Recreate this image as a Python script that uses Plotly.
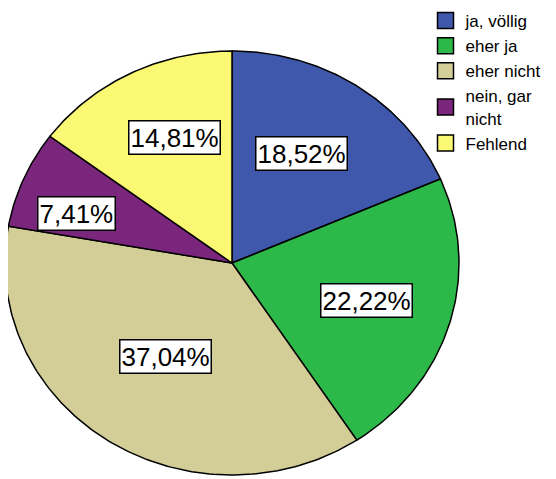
import numpy as np
import plotly.graph_objects as go

# ---- data ----
categories = ["ja, völlig", "eher ja", "eher nicht", "nein, gar<br>nicht", "Fehlend"]
percent = [18.52, 22.22, 37.04, 7.41, 14.81]

# ---- style ----
colors = ["#3f58ac", "#2db84a", "#d3ce98", "#7b267d", "#fbf874"]
label_r = [0.60, 0.62, 0.53, 0.725, 0.645]       # label distance (fraction of radius)
label_dt = [-2.7, 0.0, 0.0, -4.7, 3.7]           # label angle shift (deg)
FONT = "Liberation Sans, Arial, sans-serif"

W, H = 548, 471           # page body margin of 8px takes the rest
CX, CY = 224, 255         # pie centre in figure pixels
RX, RY = 227, 212         # pie radii in pixels

fig = go.Figure()
total = sum(percent)
start = 0.0
annotations = []
for name, val, col, lr, dt in zip(categories, percent, colors, label_r, label_dt):
    frac = val / total
    t0 = 2 * np.pi * start
    t1 = 2 * np.pi * (start + frac)
    n = max(int(frac * 400), 8)
    t = np.linspace(t0, t1, n)
    xs = np.concatenate([[0], np.sin(t), [0]])
    ys = np.concatenate([[0], np.cos(t), [0]])
    fig.add_trace(go.Scatter(
        x=xs, y=ys, mode="lines", fill="toself", fillcolor=col,
        line=dict(color="black", width=1.5), showlegend=False,
        legendgroup=name, hoverinfo="skip"))
    fig.add_trace(go.Scatter(
        x=[None], y=[None], mode="markers", name=name, legendgroup=name,
        marker=dict(symbol="square", size=16, color=col,
                    line=dict(color="black", width=1.5))))
    tm = (t0 + t1) / 2 + np.deg2rad(dt)
    annotations.append(dict(
        x=lr * np.sin(tm), y=lr * np.cos(tm), xref="x", yref="y",
        text=f"{val:.2f}%".replace(".", ","), showarrow=False,
        font=dict(family=FONT, size=26, color="black"),
        bgcolor="white", bordercolor="black", borderwidth=1.5, borderpad=1))
    start += frac

fig.update_layout(
    width=W, height=H,
    margin=dict(l=0, r=0, t=0, b=0, autoexpand=False),
    paper_bgcolor="white", plot_bgcolor="white",
    xaxis=dict(visible=False, range=[-CX / RX, (W - CX) / RX], fixedrange=True),
    yaxis=dict(visible=False, range=[-(H - CY) / RY, CY / RY], fixedrange=True),
    showlegend=True,
    legend=dict(x=417.5 / W, y=1 + 5 / H, xanchor="left", yanchor="top",
                font=dict(family=FONT, size=17, color="black"),
                bgcolor="rgba(0,0,0,0)", tracegroupgap=0,
                traceorder="normal"),
    annotations=annotations,
)

fig.write_html("out.html")
